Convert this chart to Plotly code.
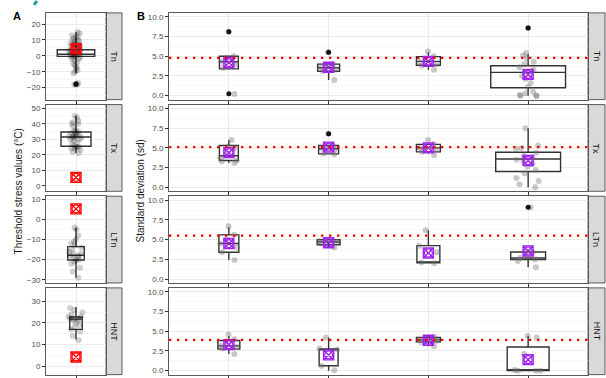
import plotly.graph_objects as go

W, H = 606, 378

# ---------------- DATA ----------------
variables = ["Tn", "Tx", "LTn", "HNT"]
b_categories = [1, 2, 3, 4]

# Panel A: threshold stress values (°C)
a_pts_tn = [15, 14, 13, 12, 12, 11, 10, 10, 9, 9, 8, 8, 7, 7, 7, 6, 6, 5, 5, 5, 4, 4, 4, 3, 3, 3, 3,
            2, 2, 2, 2, 1, 1, 1, 1, 0, 0, 0, 0, -1, -1, -2, -2, -3, -4, -5, -6, -7, -8, -9, -10, -11,
            -17, -18, -18]
a_pts_tx = [45, 44, 42, 41, 40, 40, 38, 36, 35, 35, 34, 34, 33, 33, 33, 32, 32, 32, 31, 31, 31, 30,
            30, 29, 28, 27, 26, 25, 25, 25, 24, 24, 23, 22, 21]
a_pts_ltn = [-4, -5, -8, -10, -11, -12, -13, -14, -15, -16, -17, -17, -18, -18, -19, -19, -20, -20,
             -21, -22, -24, -26, -29]
a_pts_hnt = [27, 26, 25, 24, 23, 23, 22, 22, 22, 21, 21, 20, 19, 18, 17, 16, 14, 12]

a_q1 = [-0.3, 25.5, -20.2, 17.0]
a_median = [1.0, 31.5, -17.8, 21.8]
a_q3 = [3.8, 34.7, -13.5, 22.8]
a_lower = [-11.0, 21.0, -29.0, 12.3]
a_upper = [15.0, 45.0, -4.2, 27.4]
a_outliers = [[-18, -17.5], [], [], []]
a_reference = [4.5, 5.4, 5.3, 4.2]

# Panel B: standard deviation (sd)
b_pts_tn = [[8.1, 5.0, 4.8, 4.3, 4.0, 3.5, 0.2],
            [5.5, 4.0, 3.8, 3.6, 3.3, 3.1, 2.0],
            [5.6, 5.0, 4.6, 4.3, 4.0, 3.8, 3.3],
            [8.6, 5.4, 5.1, 4.7, 4.3, 4.0, 3.6, 3.3, 3.0, 2.8, 2.5, 2.1, 1.6, 1.1, 0.5, 0.3, 0.1, 0.0, 0.0, 0.0]]
b_pts_tx = [[6.0, 5.2, 5.0, 4.3, 3.8, 3.4, 3.3, 3.1],
            [6.8, 5.3, 5.2, 5.0, 4.8, 4.3, 4.2],
            [6.0, 5.5, 5.2, 5.0, 4.8, 4.5, 4.1],
            [7.5, 5.3, 5.0, 4.9, 4.4, 4.0, 3.8, 3.5, 3.3, 3.0, 2.6, 2.2, 1.8, 1.2, 0.8, 0.4, 0.0]]
b_pts_ltn = [[6.7, 5.6, 5.0, 4.5, 4.0, 3.4, 2.4],
             [5.0, 4.8, 4.7, 4.5, 4.0],
             [6.2, 4.2, 3.4, 2.1, 2.0],
             [9.1, 3.5, 3.4, 2.9, 2.7, 2.5, 2.3, 1.5]]
b_pts_hnt = [[4.6, 4.0, 3.6, 3.2, 3.0, 2.8, 2.1],
             [4.2, 2.8, 2.7, 0.6, 0.05],
             [4.3, 4.1, 3.9, 3.8, 3.6, 3.1],
             [4.4, 4.2, 2.1, 0.1, 0.0, 0.0, 0.0]]

b_q1 = [[3.4, 3.1, 3.85, 1.0], [3.4, 4.25, 4.5, 2.0], [3.4, 4.35, 2.05, 2.47], [2.73, 0.63, 3.65, 0.0]]
b_median = [[4.3, 3.55, 4.35, 2.95], [4.0, 4.9, 5.0, 3.6], [4.5, 4.7, 2.15, 2.68], [3.15, 2.7, 3.9, 0.05]]
b_q3 = [[5.0, 4.0, 4.95, 3.8], [5.3, 5.3, 5.45, 4.45], [5.6, 4.98, 4.23, 3.43], [3.83, 2.77, 4.2, 3.0]]
b_lower = [[3.4, 2.0, 3.3, 0.0], [3.1, 4.2, 4.3, 0.0], [2.4, 4.0, 2.0, 1.5], [2.1, 0.0, 3.1, 0.0]]
b_upper = [[5.0, 4.0, 5.5, 5.3], [6.0, 5.3, 5.6, 7.5], [6.6, 5.0, 6.2, 3.5], [4.4, 4.2, 4.3, 4.4]]
b_outliers = [[[8.1, 0.25], [5.5], [], [8.6]],
              [[], [6.8], [], []],
              [[], [], [], [9.1]],
              [[], [], [], []]]
b_means = [[4.2, 3.6, 4.35, 2.7], [4.4, 5.1, 5.0, 3.4], [4.5, 4.6, 3.3, 3.55], [3.3, 2.0, 3.85, 1.4]]
b_hline = [4.8, 5.1, 5.5, 3.9]

# ---------------- STYLE ----------------
a_box_w = [0.75, 0.6, 0.33, 0.25]
b_box_w = [[0.19, 0.22, 0.24, 0.75], [0.19, 0.20, 0.24, 0.65],
           [0.20, 0.23, 0.23, 0.35], [0.22, 0.19, 0.24, 0.42]]
b_jit_w = [0.22, 0.22, 0.22, 0.32]
a_ranges = [[-27.5, 27], [-3.6, 52.4], [-31.6, 11.6], [-4, 36.3]]
b_range = [-0.5, 10.5]

FONT = "Liberation Sans, Arial, sans-serif"
BOXLINE = "#333333"
BORDER = "#5a5a5a"
GRID = "#EBEBEB"
MINOR = "#F6F6F6"
TICKC = "#4D4D4D"
PURPLE = "#A020F0"
RED = "#FF0000"

a_pts = [a_pts_tn, a_pts_tx, a_pts_ltn, a_pts_hnt]
b_pts = [b_pts_tn, b_pts_tx, b_pts_ltn, b_pts_hnt]

xa = [46 / W, 106 / W]
xb = [169 / W, 588 / W]
row_top = [12 + r * 92.4 for r in range(4)]
row_h = 87.4


def ydom(r):
    top = row_top[r]
    return [1 - (top + row_h) / H, 1 - top / H]


fig = go.Figure()
layout = {}
shapes = []
annotations = []

for r, var in enumerate(variables):
    for c in range(2):
        n = r * 2 + c + 1
        xk = "x" if n == 1 else f"x{n}"
        yk = "y" if n == 1 else f"y{n}"
        xname = "xaxis" if n == 1 else f"xaxis{n}"
        yname = "yaxis" if n == 1 else f"yaxis{n}"
        if c == 0:
            cats = [1]
            xr = [0.4, 1.6]
            yr = a_ranges[r]
            dt, mdt, tf = 10, 5, "d"
        else:
            cats = b_categories
            xr = [0.4, 4.6]
            yr = b_range
            dt, mdt, tf = 2.5, 1.25, ".1f"
        layout[xname] = dict(domain=xa if c == 0 else xb, anchor=yk, range=xr,
                             tickvals=cats, showticklabels=False, ticks="outside",
                             ticklen=3, tickcolor=BOXLINE, showgrid=True, gridcolor=GRID,
                             gridwidth=1, zeroline=False, showline=True, mirror=True,
                             linecolor=BORDER, linewidth=1, fixedrange=True)
        layout[yname] = dict(domain=ydom(r), anchor=xk, range=yr, dtick=dt, tick0=0,
                             tickformat=tf, ticks="outside", ticklen=3, tickcolor=BOXLINE,
                             tickfont=dict(size=8, color=TICKC, family=FONT),
                             showgrid=True, gridcolor=GRID, gridwidth=1,
                             minor=dict(dtick=mdt, tick0=0, showgrid=True, gridcolor=MINOR,
                                        gridwidth=1, ticks=""),
                             zeroline=False, showline=True, mirror=True, linecolor=BORDER,
                             linewidth=1, fixedrange=True)

        if c == 0:
            groups = [(1, a_q1[r], a_median[r], a_q3[r], a_lower[r], a_upper[r],
                       a_outliers[r], a_pts[r], a_reference[r], a_box_w[r], 0.32)]
            pt_color = "rgba(0,0,0,0.18)"
            mcol = RED
        else:
            groups = [(cats[i], b_q1[r][i], b_median[r][i], b_q3[r][i], b_lower[r][i],
                       b_upper[r][i], b_outliers[r][i], b_pts[r][i], b_means[r][i],
                       b_box_w[r][i], b_jit_w[i]) for i in range(4)]
            pt_color = "rgba(110,110,110,0.38)"
            mcol = PURPLE

        for (cx, q1, med, q3, lo, up, outs, pts, mval, bw, jw) in groups:
            fig.add_trace(go.Box(x=[cx], q1=[q1], median=[med], q3=[q3], lowerfence=[lo],
                                 upperfence=[up], width=bw, boxpoints=False, whiskerwidth=0,
                                 fillcolor="white", line=dict(color=BOXLINE, width=1.4),
                                 xaxis=xk, yaxis=yk, showlegend=False, hoverinfo="skip"))
            if outs:
                fig.add_trace(go.Scatter(x=[cx] * len(outs), y=outs, mode="markers",
                                         marker=dict(color="#111111", size=5),
                                         xaxis=xk, yaxis=yk, showlegend=False,
                                         hoverinfo="skip"))
            fig.add_trace(go.Box(x=[cx] * len(pts), y=pts, boxpoints="all", jitter=1,
                                 pointpos=0, width=jw,
                                 fillcolor="rgba(0,0,0,0)",
                                 line=dict(color="rgba(0,0,0,0)", width=0),
                                 marker=dict(color=pt_color, size=6, line=dict(width=0)),
                                 xaxis=xk, yaxis=yk, showlegend=False, hoverinfo="skip"))
            fig.add_trace(go.Scatter(x=[cx], y=[mval], mode="markers",
                                     marker=dict(symbol="square-x-open", size=10, color=mcol,
                                                 line=dict(width=1.4, color=mcol)),
                                     xaxis=xk, yaxis=yk, showlegend=False, hoverinfo="skip"))
            fig.add_trace(go.Scatter(x=[cx], y=[mval], mode="markers",
                                     marker=dict(symbol="circle-open", size=8, color=mcol,
                                                 line=dict(width=1.2, color=mcol)),
                                     xaxis=xk, yaxis=yk, showlegend=False, hoverinfo="skip"))

        if c == 1:
            shapes.append(dict(type="line", xref=f"{xk} domain", yref=yk, x0=0, x1=1,
                               y0=b_hline[r], y1=b_hline[r], layer="above",
                               line=dict(color=RED, width=2.4, dash="2.4px,5.6px")))

    # strips
    d = ydom(r)
    for (x0, x1) in [(106 / W, 122 / W), (588 / W, 605 / W)]:
        shapes.append(dict(type="rect", xref="paper", yref="paper", x0=x0, x1=x1,
                           y0=d[0], y1=d[1], fillcolor="#D9D9D9",
                           line=dict(color=BORDER, width=1), layer="below"))
        annotations.append(dict(xref="paper", yref="paper", x=(x0 + x1) / 2,
                                y=(d[0] + d[1]) / 2, text=var, showarrow=False,
                                xanchor="center", yanchor="middle",
                                textangle=90, font=dict(size=9, color="#1A1A1A", family=FONT)))

# panel letters and axis titles
annotations += [
    dict(xref="paper", yref="paper", x=17 / W, y=1 - 15 / H, text="<b>A</b>", showarrow=False,
         xanchor="center", yanchor="middle", font=dict(size=11, color="black", family=FONT)),
    dict(xref="paper", yref="paper", x=141 / W, y=1 - 15 / H, text="<b>B</b>", showarrow=False,
         xanchor="center", yanchor="middle", font=dict(size=11, color="black", family=FONT)),
    dict(xref="paper", yref="paper", x=18 / W, y=1 - 192 / H,
         text="Threshold stress values (°C)", showarrow=False, textangle=-90,
         xanchor="center", yanchor="middle",
         font=dict(size=10, color="#1A1A1A", family=FONT)),
    dict(xref="paper", yref="paper", x=140 / W, y=1 - 192 / H,
         text="Standard deviation (sd)", showarrow=False, textangle=-90,
         xanchor="center", yanchor="middle",
         font=dict(size=10, color="#1A1A1A", family=FONT)),
]
# small teal fragment at the very top (cropped heading)
shapes.append(dict(type="line", xref="paper", yref="paper", x0=37 / W, x1=34 / W,
                   y0=1.0, y1=1 - 4 / H, line=dict(color="#1AA3A3", width=3)))

fig.update_layout(width=W, height=H, margin=dict(l=0, r=0, t=0, b=0),
                  paper_bgcolor="white", plot_bgcolor="white", boxmode="overlay",
                  showlegend=False, shapes=shapes, annotations=annotations,
                  font=dict(family=FONT), **layout)

fig.write_html("out.html", config={"displayModeBar": False},
               post_script="document.body.style.margin='0';document.body.style.padding='0';"
                           "document.body.style.overflow='hidden';")
